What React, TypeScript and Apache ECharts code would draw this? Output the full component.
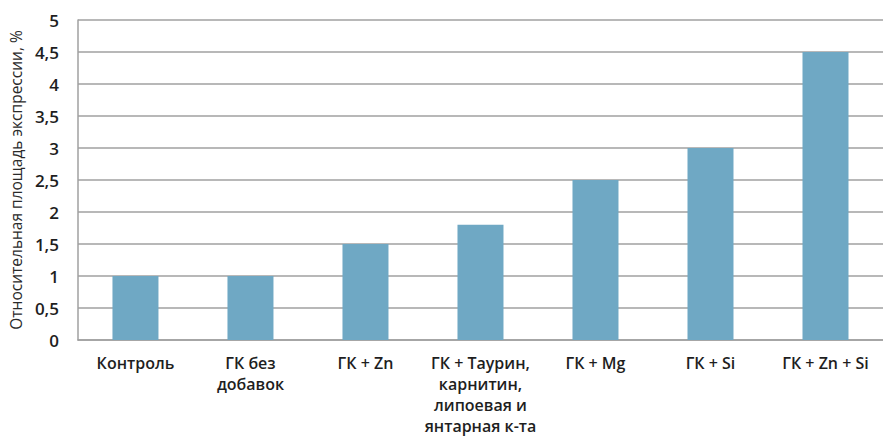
import React, { useEffect, useRef } from "react";
import * as echarts from "echarts";

const categories = [
  "Контроль",
  "ГК без\nдобавок",
  "ГК + Zn",
  "ГК + Таурин,\nкарнитин,\nлипоевая и\nянтарная к-та",
  "ГК + Mg",
  "ГК + Si",
  "ГК + Zn + Si",
];
const values = [1, 1, 1.5, 1.8, 2.5, 3, 4.5];
const yAxisTitle = "Относительная площадь экспрессии, %";

export default function App() {
  const ref = useRef<HTMLDivElement>(null);
  useEffect(() => {
    const chart = echarts.init(ref.current!, undefined, { renderer: "svg" });
    chart.setOption({
      animation: false,
      backgroundColor: "#ffffff",
      textStyle: { fontFamily: "Open Sans" },
      grid: { left: 75, top: 20, width: 813, height: 320, containLabel: false },
      xAxis: {
        type: "category",
        data: categories,
        axisTick: { show: false },
        axisLine: { show: true, lineStyle: { color: "#a0a0a0", width: 1.5 } },
        axisLabel: {
          interval: 0,
          margin: 12,
          color: "#1e1e1e",
          fontSize: 16,
          fontWeight: 600,
          lineHeight: 21,
          fontFamily: "Open Sans",
        },
      },
      yAxis: {
        type: "value",
        min: 0,
        max: 5,
        interval: 0.5,
        name: yAxisTitle,
        nameLocation: "middle",
        nameGap: 50,
        nameTextStyle: { color: "#2a2a2a", fontSize: 15.5, fontWeight: 500, fontFamily: "Open Sans" },
        axisLine: { show: true, lineStyle: { color: "#a0a0a0", width: 1.5 } },
        axisTick: { show: false },
        splitLine: { show: true, lineStyle: { color: "#a0a0a0", width: 1.5 } },
        axisLabel: {
          margin: 19,
          color: "#1e1e1e",
          fontSize: 17,
          fontWeight: 600,
          fontFamily: "Open Sans",
          formatter: (v: number) => String(v).replace(".", ","),
        },
      },
      series: [
        {
          type: "bar",
          data: values,
          barWidth: 46,
          itemStyle: { color: "#6fa8c4" },
        },
      ],
    });
    return () => chart.dispose();
  }, []);
  return (
    <div
      ref={ref}
      style={{ position: "fixed", left: 0, top: 0, width: 883, height: 447 }}
    />
  );
}
